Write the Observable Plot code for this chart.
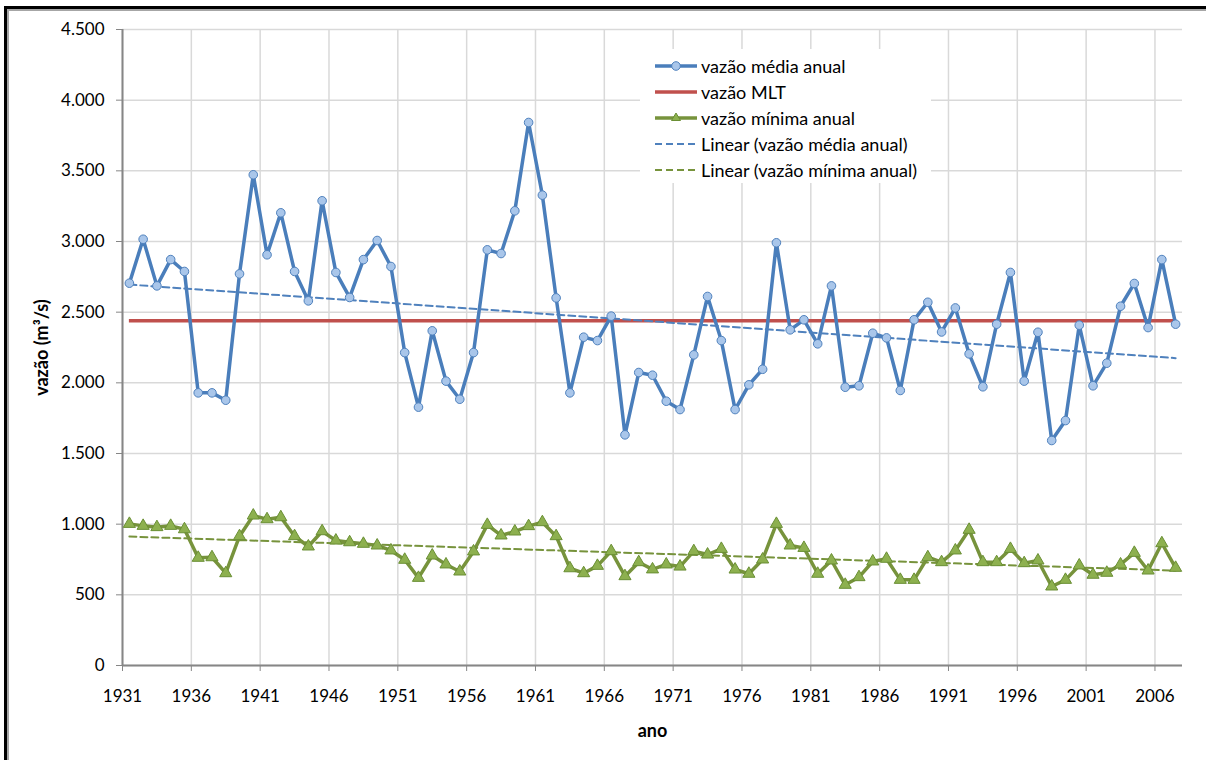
<!DOCTYPE html>
<html>
<head>
<meta charset="utf-8">
<script src="https://cdn.jsdelivr.net/npm/d3@7"></script>
<script src="https://cdn.jsdelivr.net/npm/@observablehq/plot@0.6"></script>
<style>
  html, body { margin: 0; padding: 0; background: #fff; overflow: hidden; }
  #wrap { position: relative; width: 1206px; height: 760px; overflow: hidden; font-family: Lato, "Open Sans", sans-serif; }
  #frame { position: absolute; left: 4px; top: 6px; width: 1400px; height: 900px; border-left: 3px solid #000; border-top: 3px solid #000; box-shadow: inset 2px 2px 0 #a6a6a6; pointer-events: none; z-index: 3; }
  #legend { position: absolute; left: 640px; top: 49px; width: 291px; height: 134px; background: #fff; z-index: 2; }
  .row { position: absolute; left: 14px; height: 24px; display: flex; align-items: center; font-size: 18px; color: #000; white-space: nowrap; }
  .row svg { margin-right: 3px; }
</style>
</head>
<body>
<div id="wrap">
  <div id="chart"></div>
  <div id="legend"></div>
  <div id="frame"></div>
</div>
<script>
// ---- data ----
const years = [1931,1932,1933,1934,1935,1936,1937,1938,1939,1940,1941,1942,1943,1944,1945,1946,1947,1948,1949,1950,
  1951,1952,1953,1954,1955,1956,1957,1958,1959,1960,1961,1962,1963,1964,1965,1966,1967,1968,1969,1970,
  1971,1972,1973,1974,1975,1976,1977,1978,1979,1980,1981,1982,1983,1984,1985,1986,1987,1988,1989,1990,
  1991,1992,1993,1994,1995,1996,1997,1998,1999,2000,2001,2002,2003,2004,2005,2006,2007];
const vazaoMedia = [2705,3016,2686,2872,2788,1929,1929,1877,2771,3472,2906,3203,2788,2580,3288,2781,2604,2872,3007,2823,
  2214,1828,2368,2012,1884,2214,2941,2915,3217,3842,3328,2601,1929,2323,2299,2472,1632,2073,2054,1870,
  1811,2198,2611,2299,1811,1986,2096,2991,2375,2446,2276,2686,1969,1979,2351,2318,1946,2446,2570,2360,
  2530,2205,1972,2415,2781,2012,2358,1592,1733,2408,1979,2139,2542,2703,2391,2872,2415];
const vazaoMinima = [1002,988,979,988,964,762,766,653,915,1061,1035,1049,915,842,950,884,872,861,849,814,
  748,620,778,715,665,807,995,920,948,986,1014,915,688,653,705,809,632,731,680,715,
  700,809,785,825,679,649,750,1002,849,832,649,743,571,625,736,755,606,606,766,731,
  814,960,731,731,825,724,743,559,606,708,642,656,715,797,672,865,691];
const vazaoMLT = 2440;
const yTicks = [0,500,1000,1500,2000,2500,3000,3500,4000,4500];
const xTickLabels = [1931,1936,1941,1946,1951,1956,1961,1966,1971,1976,1981,1986,1991,1996,2001,2006];
const seriesNames = ["vazão média anual","vazão MLT","vazão mínima anual","Linear (vazão média anual)","Linear (vazão mínima anual)"];

// ---- build table ----
const rows = years.map((y, i) => ({year: y, media: vazaoMedia[i], minima: vazaoMinima[i]}));
const xTicks = xTickLabels.map(d => d - 0.5); // category boundaries
const ptBR = d3.formatLocale({decimal: ",", thousands: ".", grouping: [3], currency: ["R$", ""]});
const fmt = ptBR.format(",d");

const blue = "#4a7ebb", red = "#c0504d", green = "#77933c";

const chart = Plot.plot({
  width: 1206,
  height: 760,
  marginLeft: 122,
  marginRight: 24,
  marginTop: 29,
  marginBottom: 95,
  style: {fontFamily: "Lato, 'Open Sans', sans-serif", fontSize: "17px", color: "#000", background: "#fff"},
  x: {domain: [years[0] - 0.5, years[years.length - 1] + 0.5], label: null},
  y: {domain: [0, 4500], label: null},
  marks: [
    Plot.gridY(yTicks, {stroke: "#d9d9d9", strokeOpacity: 1, strokeWidth: 1.5}),
    Plot.gridX(xTicks, {stroke: "#d9d9d9", strokeOpacity: 1, strokeWidth: 1.5}),
    Plot.axisY(yTicks, {tickSize: 6, tickPadding: 12, tickFormat: fmt, stroke: "#868686", fill: "#000", label: null, fontSize: 17}),
    Plot.axisX(xTicks, {tickSize: 6, tickPadding: 18, tickFormat: d => String(d + 0.5), stroke: "#868686", fill: "#000", label: null, fontSize: 17}),
    Plot.ruleX([years[0] - 0.5], {stroke: "#868686", strokeWidth: 2}),
    Plot.ruleY([0], {stroke: "#868686", strokeWidth: 2}),
    Plot.ruleY([vazaoMLT], {x1: years[0], x2: years[years.length - 1], stroke: red, strokeWidth: 3.5}),
    Plot.line(rows, {x: "year", y: "media", stroke: blue, strokeWidth: 3.5, strokeLinejoin: "round"}),
    Plot.line(rows, {x: "year", y: "minima", stroke: green, strokeWidth: 3.5, strokeLinejoin: "round"}),
    Plot.linearRegressionY(rows, {x: "year", y: "media", stroke: "#4f81bd", strokeWidth: 2, strokeDasharray: "7,4", ci: 0}),
    Plot.linearRegressionY(rows, {x: "year", y: "minima", stroke: green, strokeWidth: 2, strokeDasharray: "7,4", ci: 0}),
    Plot.dot(rows, {x: "year", y: "media", r: 4.3, fill: "#a9c6ea", stroke: "#4f81bd", strokeWidth: 1}),
    Plot.dot(rows, {x: "year", y: "minima", symbol: "triangle", r: 4.5, fill: "#8db04f", stroke: "#6a8f34", strokeWidth: 1}),
    Plot.text(["ano"], {frameAnchor: "bottom", dy: 66, lineAnchor: "middle", textAnchor: "middle", text: d => d, fontWeight: "bold", fontSize: 18, fill: "#000"}),
    Plot.text(["vazão (m³/s)"], {frameAnchor: "left", dx: -80, rotate: -90, lineAnchor: "middle", textAnchor: "middle", text: d => d, fontWeight: "bold", fontSize: 18, fill: "#000"})
  ]
});
document.getElementById("chart").appendChild(chart);

// ---- legend (overlay inside plot area) ----
const legend = document.getElementById("legend");
const legendSymbols = [
  `<line x1="1" y1="12" x2="43" y2="12" stroke="${blue}" stroke-width="3.5"/><circle cx="22" cy="12" r="4.3" fill="#a9c6ea" stroke="#4f81bd"/>`,
  `<line x1="1" y1="12" x2="43" y2="12" stroke="${red}" stroke-width="3.5"/>`,
  `<line x1="1" y1="12" x2="43" y2="12" stroke="${green}" stroke-width="3.5"/><path d="M22,7 L26.5,14.5 L17.5,14.5 Z" fill="#8db04f" stroke="#6a8f34"/>`,
  `<line x1="1" y1="12" x2="43" y2="12" stroke="#4f81bd" stroke-width="2" stroke-dasharray="7,4"/>`,
  `<line x1="1" y1="12" x2="43" y2="12" stroke="${green}" stroke-width="2" stroke-dasharray="7,4"/>`
];
const rowTops = [5, 31, 57, 83, 109];
seriesNames.forEach((name, i) => {
  const r = document.createElement("div");
  r.className = "row";
  r.style.top = rowTops[i] + "px";
  r.innerHTML = `<svg width="44" height="24">${legendSymbols[i]}</svg><span>${name}</span>`;
  legend.appendChild(r);
});
</script>
</body>
</html>
